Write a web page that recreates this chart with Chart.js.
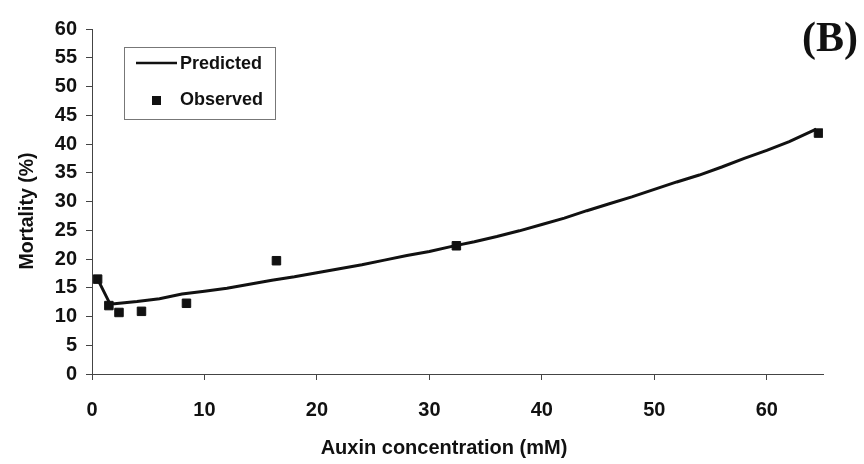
<!DOCTYPE html>
<html>
<head>
<meta charset="utf-8">
<script src="https://cdn.jsdelivr.net/npm/chart.js@4/dist/chart.umd.min.js"></script>
<style>
  html, body { margin: 0; padding: 0; background: #fff; }
  #wrap { width: 864px; height: 464px; position: relative; }
</style>
</head>
<body>
<div id="wrap"><canvas id="grafico"></canvas></div>
<script>
// datos
const obsX = [0.5, 1.5, 2.4, 4.4, 8.4, 16.4, 32.4, 64.6];
const obsY = [16.5, 11.9, 10.7, 10.9, 12.3, 19.7, 22.3, 41.9];

const predX = [0.5, 1.6, 2, 4, 6, 8, 10, 12, 14, 16, 18, 20, 22, 24, 26, 28, 30, 32, 34, 36, 38, 40, 42, 44, 46, 48, 50, 52, 54, 56, 58, 60, 62, 64.4];
const predY = [16.5, 12.2, 12.2, 12.6, 13.1, 13.9, 14.4, 14.9, 15.6, 16.3, 16.9, 17.6, 18.3, 19.0, 19.8, 20.6, 21.3, 22.2, 23.0, 23.9, 24.9, 26.0, 27.1, 28.4, 29.6, 30.8, 32.1, 33.4, 34.6, 36.0, 37.5, 38.9, 40.4, 42.6];

const xTicks = [0, 10, 20, 30, 40, 50, 60];
const yTicks = [0, 5, 10, 15, 20, 25, 30, 35, 40, 45, 50, 55, 60];

const tituloX = "Auxin concentration (mM)";
const tituloY = "Mortality (%)";

const fuente = "'Liberation Sans', Arial, sans-serif";

// leyenda, titulos de ejes y etiqueta (B) dibujados a mano
const extras = {
  id: "extras",
  afterDraw(chart) {
    const c = chart.ctx;
    c.save();
    c.strokeStyle = "#777";
    c.lineWidth = 1;
    c.strokeRect(124.5, 47.5, 151, 72);
    c.strokeStyle = "#111";
    c.lineWidth = 2.5;
    c.beginPath();
    c.moveTo(136, 63);
    c.lineTo(177, 63);
    c.stroke();
    c.fillStyle = "#111";
    c.fillRect(152, 96, 9, 9);
    c.font = "bold 18px " + fuente;
    c.textBaseline = "middle";
    c.fillText(chart.data.datasets[0].label, 180, 64);
    c.fillText(chart.data.datasets[1].label, 180, 100);

    c.font = "bold 20px " + fuente;
    c.textAlign = "center";
    c.fillText(tituloX, 444, 448);
    c.save();
    c.translate(28, 211);
    c.rotate(-Math.PI / 2);
    c.font = "bold 19.5px " + fuente;
    c.fillText(tituloY, 0, 0);
    c.restore();

    c.textAlign = "left";
    c.font = "bold 42px 'Liberation Serif', 'Times New Roman', serif";
    c.textBaseline = "alphabetic";
    c.fillText("(B)", 802, 51);
    c.restore();
  },
};

const ctx = document.getElementById("grafico").getContext("2d");
new Chart(ctx, {
  type: "scatter",
  data: {
    datasets: [
      {
        label: "Predicted",
        data: predX.map((x, i) => ({ x: x, y: predY[i] })),
        showLine: true,
        borderColor: "#111",
        borderWidth: 3,
        pointRadius: 0,
        tension: 0,
      },
      {
        label: "Observed",
        data: obsX.map((x, i) => ({ x: x, y: obsY[i] })),
        pointStyle: "rect",
        pointRadius: 6,
        backgroundColor: "#111",
        borderColor: "#111",
      },
    ],
  },
  options: {
    responsive: true,
    maintainAspectRatio: false,
    animation: false,
    layout: { padding: { top: 29, right: 41, left: 0, bottom: 0 } },
    plugins: { legend: { display: false }, tooltip: { enabled: false } },
    scales: {
      x: {
        type: "linear",
        min: 0,
        max: 65,
        afterBuildTicks: (s) => { s.ticks = xTicks.map((v) => ({ value: v })); },
        afterFit: (s) => { s.height = 90; },
        grid: { display: true, drawOnChartArea: false, tickLength: 6, color: "#444" },
        border: { display: true, color: "#444", width: 1 },
        ticks: { color: "#111", padding: 18, font: { family: fuente, size: 20, weight: "bold" } },
      },
      y: {
        min: 0,
        max: 60,
        afterBuildTicks: (s) => { s.ticks = yTicks.map((v) => ({ value: v })); },
        afterFit: (s) => { s.width = 92; },
        grid: { display: true, drawOnChartArea: false, tickLength: 6, color: "#444" },
        border: { display: true, color: "#444", width: 1 },
        ticks: { color: "#111", padding: 9, font: { family: fuente, size: 20, weight: "bold" } },
      },
    },
  },
  plugins: [extras],
});
</script>
</body>
</html>
